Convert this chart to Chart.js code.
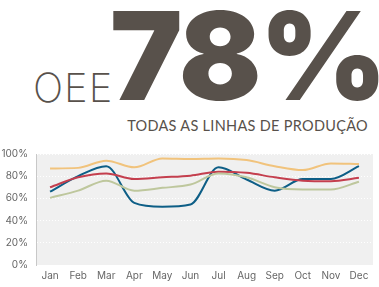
<!DOCTYPE html>
<html>
<head>
<meta charset="utf-8">
<script src="https://cdn.jsdelivr.net/npm/chart.js@4"></script>
<style>
  html, body { margin: 0; padding: 0; background: #fff; }
  body { width: 379px; height: 287px; position: relative; overflow: hidden; font-family: Inter, sans-serif; color: #58514b; }
  .t { position: absolute; line-height: 1; white-space: nowrap; }
  #big { left: 110px; top: -5px; font-size: 122px; font-weight: 900; letter-spacing: -2px; }
  #oee { left: 33px; top: 68px; font-size: 40px; font-weight: 200; letter-spacing: 1px; }
  #sub { right: 11px; top: 118.5px; font-size: 14.5px; font-weight: 400; font-family: Lato, sans-serif; letter-spacing: 0.3px; }
  #wrap { position: absolute; left: 0; top: 140px; width: 379px; height: 147px; }
</style>
</head>
<body>
<div class="t" id="oee">OEE</div>
<div class="t" id="big">78%</div>
<div class="t" id="sub">TODAS AS LINHAS DE PRODUÇÃO</div>
<div id="wrap"><canvas id="oeeChart"></canvas></div>
<script>
const months = ['Jan', 'Feb', 'Mar', 'Apr', 'May', 'Jun', 'Jul', 'Aug', 'Sep', 'Oct', 'Nov', 'Dec'];
const lineOrange = [87, 87.5, 94, 88, 96, 95.5, 96, 94.5, 89, 85.5, 91.5, 91];
const lineBlue = [66, 80, 89, 56, 52.5, 54.5, 88, 77, 67, 77.5, 77.5, 89];
const lineRed = [70, 79, 82.5, 77.5, 79, 80.5, 84, 83, 79, 76, 75.5, 78.5];
const lineGreen = [60.5, 67, 76, 67, 69.5, 72.5, 82.5, 79, 70, 68, 68, 75];
const yTicks = [0, 20, 40, 60, 80, 100];

const plotBg = {
    id: 'plotBg',
    beforeDraw(chart) {
        const { ctx, chartArea: a } = chart;
        ctx.save();
        ctx.fillStyle = '#f0f0f0';
        ctx.fillRect(a.left, a.top, a.right - a.left, a.bottom - a.top);
        ctx.restore();
    }
};

function series(data, color) {
    return {
        data: data,
        borderColor: color,
        borderWidth: 2,
        pointRadius: 0,
        fill: false,
        cubicInterpolationMode: 'monotone'
    };
}

new Chart(document.getElementById('oeeChart'), {
    type: 'line',
    data: {
        labels: months,
        datasets: [
            series(lineGreen, '#bec79d'),
            series(lineOrange, '#f1c37c'),
            series(lineRed, '#c43f4e'),
            series(lineBlue, '#0d5e86')
        ]
    },
    plugins: [plotBg],
    options: {
        responsive: true,
        maintainAspectRatio: false,
        animation: false,
        layout: { padding: { top: 7, right: 6, left: 0, bottom: 0 } },
        plugins: {
            legend: { display: false },
            tooltip: { enabled: false }
        },
        scales: {
            x: {
                offset: true,
                grid: { display: false, drawTicks: false },
                border: { display: false },
                ticks: { color: '#666', font: { family: 'Inter', size: 10 }, padding: 5, maxRotation: 0 },
                afterFit: s => { s.height = 22; }
            },
            y: {
                min: 0,
                max: 100,
                afterBuildTicks: s => { s.ticks = yTicks.map(v => ({ value: v })); },
                grid: { color: '#fff', lineWidth: 1, drawTicks: false },
                border: { display: true, color: '#c8c8c8', dash: [1, 2] },
                ticks: { color: '#666', font: { family: 'Inter', size: 10 }, padding: 8, callback: v => v + '%' },
                afterFit: s => { s.width = 36; }
            }
        }
    }
});
</script>
</body>
</html>
